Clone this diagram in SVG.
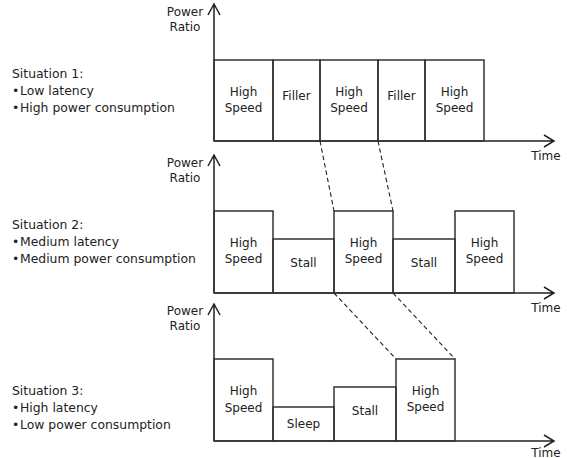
<svg xmlns="http://www.w3.org/2000/svg" width="567" height="458" viewBox="0 0 567 458">
<style>
text{font-family:"DejaVu Sans","Liberation Sans",sans-serif;font-size:12px;fill:#222}
.s{font-size:12.4px}
.c{text-anchor:middle}
.box{fill:none;stroke:#333;stroke-width:1.5}
.ax{fill:none;stroke:#222;stroke-width:1.5}
.dash{fill:none;stroke:#222;stroke-width:1.1;stroke-dasharray:4.5,3}
</style>
<rect width="567" height="458" fill="#fff"/>
<g id="labels">
<text class="s" x="12" y="78">Situation 1:</text>
<text class="s" y="95"><tspan x="12">•</tspan><tspan x="20">Low latency</tspan></text>
<text class="s" y="112"><tspan x="12">•</tspan><tspan x="20">High power consumption</tspan></text>
<text class="s" x="12" y="229">Situation 2:</text>
<text class="s" y="246"><tspan x="12">•</tspan><tspan x="20">Medium latency</tspan></text>
<text class="s" y="263"><tspan x="12">•</tspan><tspan x="20">Medium power consumption</tspan></text>
<text class="s" x="12" y="395">Situation 3:</text>
<text class="s" y="412"><tspan x="12">•</tspan><tspan x="20">High latency</tspan></text>
<text class="s" y="429"><tspan x="12">•</tspan><tspan x="20">Low power consumption</tspan></text>
</g>
<g id="axes">
<path class="ax" d="M214,141 V4 M208,15 L214,4 L220,15 M214,141 H554 M544,135 L554,141 L544,147"/>
<path class="ax" d="M214,293 V155 M208,166 L214,155 L220,166 M214,293 H554 M544,287 L554,293 L544,299"/>
<path class="ax" d="M214,441 V304 M208,315 L214,304 L220,315 M214,441 H554 M544,435 L554,441 L544,447"/>
<text class="c" x="185" y="16">Power</text><text class="c" x="185" y="31">Ratio</text>
<text class="c" x="185" y="167">Power</text><text class="c" x="185" y="182">Ratio</text>
<text class="c" x="185" y="315">Power</text><text class="c" x="185" y="330">Ratio</text>
<text class="c" x="546" y="160">Time</text>
<text class="c" x="546" y="312">Time</text>
<text class="c" x="546" y="456.5">Time</text>
</g>
<g id="situation1">
<rect class="box" x="214" y="60" width="59" height="81"/>
<rect class="box" x="273" y="60" width="47" height="81"/>
<rect class="box" x="320" y="60" width="58" height="81"/>
<rect class="box" x="378" y="60" width="47" height="81"/>
<rect class="box" x="425" y="60" width="59" height="81"/>
<text class="c" x="243.5" y="96">High</text><text class="c" x="243.5" y="112">Speed</text>
<text class="c" x="296.5" y="100">Filler</text>
<text class="c" x="349" y="96">High</text><text class="c" x="349" y="112">Speed</text>
<text class="c" x="401.5" y="100">Filler</text>
<text class="c" x="454.5" y="96">High</text><text class="c" x="454.5" y="112">Speed</text>
</g>
<g id="situation2">
<rect class="box" x="214" y="211" width="59" height="82"/>
<rect class="box" x="273" y="239" width="61" height="54"/>
<rect class="box" x="334" y="211" width="59" height="82"/>
<rect class="box" x="393" y="239" width="62" height="54"/>
<rect class="box" x="455" y="211" width="59" height="82"/>
<text class="c" x="243.5" y="247">High</text><text class="c" x="243.5" y="263">Speed</text>
<text class="c" x="303.5" y="267">Stall</text>
<text class="c" x="363.5" y="247">High</text><text class="c" x="363.5" y="263">Speed</text>
<text class="c" x="424" y="267">Stall</text>
<text class="c" x="484.5" y="247">High</text><text class="c" x="484.5" y="263">Speed</text>
</g>
<g id="situation3">
<rect class="box" x="214" y="359" width="59" height="82"/>
<rect class="box" x="273" y="407" width="61" height="34"/>
<rect class="box" x="334" y="387" width="62" height="54"/>
<rect class="box" x="396" y="359" width="59" height="82"/>
<text class="c" x="243.5" y="395">High</text><text class="c" x="243.5" y="412">Speed</text>
<text class="c" x="303.5" y="428">Sleep</text>
<text class="c" x="365" y="415">Stall</text>
<text class="c" x="425.5" y="395">High</text><text class="c" x="425.5" y="411">Speed</text>
</g>
<g id="connectors">
<path class="dash" d="M320,141 L334,211 M378,141 L393,211 M334,293 L396,359 M393,293 L455,359"/>
</g>
</svg>
